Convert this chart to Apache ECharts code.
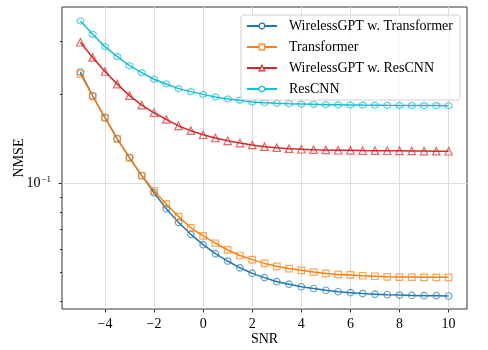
<!DOCTYPE html>
<html>
<head>
<meta charset="utf-8">
<script src="https://cdn.jsdelivr.net/npm/echarts@6/dist/echarts.min.js"></script>
<style>
  html, body { margin: 0; padding: 0; background: #fff; }
  #chart { width: 488px; height: 350px; }
</style>
</head>
<body>
<div id="chart"></div>
<script>
// SNR points (dB)
const snr = [-5, -4.5, -4, -3.5, -3, -2.5, -2, -1.5, -1, -0.5, 0, 0.5, 1, 1.5, 2, 2.5, 3, 3.5, 4, 4.5, 5, 5.5, 6, 6.5, 7, 7.5, 8, 8.5, 9, 9.5, 10]

const gptTransformer = [0.2371, 0.1972, 0.1663, 0.1413, 0.1220, 0.1061, 0.0929, 0.0820, 0.0738, 0.0673, 0.0621,
  0.0579, 0.0547, 0.0519, 0.0497, 0.0481, 0.0466, 0.0457, 0.0448, 0.0442, 0.0436,
  0.0431, 0.0428, 0.0425, 0.0423, 0.0421, 0.0420, 0.0419, 0.0418, 0.0418, 0.0417]
const transformer = [0.2335, 0.1962, 0.1666, 0.1410, 0.1217, 0.1060, 0.0943, 0.0850, 0.0772, 0.0708, 0.0665,
  0.0628, 0.0596, 0.0571, 0.0553, 0.0537, 0.0525, 0.0516, 0.0509, 0.0502, 0.0497,
  0.0493, 0.0491, 0.0488, 0.0486, 0.0484, 0.0483, 0.0483, 0.0482, 0.0482, 0.0482]
const gptResCNN = [0.2986, 0.2655, 0.2380, 0.2158, 0.1974, 0.1833, 0.1728, 0.1641, 0.1560, 0.1504, 0.1457,
  0.1421, 0.1390, 0.1366, 0.1346, 0.1328, 0.1318, 0.1308, 0.1302, 0.1298, 0.1295,
  0.1292, 0.1291, 0.1289, 0.1288, 0.1287, 0.1286, 0.1285, 0.1284, 0.1283, 0.1282]
const resCNN = [0.3524, 0.3177, 0.2886, 0.2671, 0.2490, 0.2359, 0.2241, 0.2161, 0.2084, 0.2036, 0.1993,
  0.1954, 0.1924, 0.1904, 0.1879, 0.1869, 0.1860, 0.1854, 0.1850, 0.1846, 0.1840,
  0.1839, 0.1836, 0.1834, 0.1833, 0.1831, 0.1830, 0.1828, 0.1827, 0.1827, 0.1826]

const names = ['WirelessGPT w. Transformer', 'Transformer', 'WirelessGPT w. ResCNN', 'ResCNN']
const xTicks = [-4, -2, 0, 2, 4, 6, 8, 10]
const yMajor = [0.1]
const yMinor = [0.04, 0.05, 0.06, 0.07, 0.08, 0.09, 0.2, 0.3]

const font = 'Liberation Serif'
const hexagon = 'path://M0,-1L0.866,-0.5L0.866,0.5L0,1L-0.866,0.5L-0.866,-0.5Z'
const colors = ['#1f77b4', '#ff7f0e', '#d62728', '#17becf']
const edges = ['rgba(31,119,180,0.7)', 'rgba(255,127,14,0.7)', 'rgba(214,39,40,0.7)', 'rgba(23,190,207,0.7)']

function line(i, data, symbol, size) {
  return {
    name: names[i],
    type: 'line',
    data: snr.map((x, k) => [x, data[k]]),
    symbol: symbol,
    symbolSize: size,
    showSymbol: true,
    lineStyle: { color: colors[i], width: 1.5 },
    itemStyle: { color: 'rgba(255,255,255,0)', borderColor: edges[i], borderWidth: 1.2 },
    emphasis: { disabled: true },
  }
}

const chart = echarts.init(document.getElementById('chart'), null, { renderer: 'canvas' })
chart.setOption({
  animation: false,
  grid: {
    left: 62, top: 7, right: 21, bottom: 41,
    containLabel: false,
    outerBoundsMode: 'none',
    show: true, borderColor: '#333', borderWidth: 1,
  },
  legend: {
    orient: 'vertical',
    right: 28,
    top: 15,
    padding: [4, 7, 4, 5],
    itemWidth: 30,
    itemHeight: 7,
    itemGap: 7,
    backgroundColor: 'rgba(255,255,255,0.8)',
    borderColor: '#d0d0d0',
    borderWidth: 1,
    borderRadius: 3,
    textStyle: { fontFamily: font, fontSize: 14, color: '#000', padding: [0, 0, 0, 7] },
    data: names.map((n, i) => ({
      name: n,
      itemStyle: { color: '#fff', borderColor: colors[i], borderWidth: 1.2 },
    })),
  },
  xAxis: {
    type: 'value',
    min: -5.75,
    max: 10.75,
    name: 'SNR',
    nameLocation: 'middle',
    nameGap: 23,
    nameMoveOverlap: false,
    nameTextStyle: { fontFamily: font, fontSize: 14, color: '#000' },
    axisLine: { show: false, onZero: false },
    axisTick: { show: true, length: 3.5, lineStyle: { color: '#333' }, customValues: xTicks },
    axisLabel: {
      fontFamily: font, fontSize: 14, color: '#000', margin: 8,
      customValues: xTicks,
      formatter: (v) => String(v).replace('-', '\u2212'),
    },
    splitLine: { show: true, lineStyle: { color: '#dedede', width: 1 } },
  },
  yAxis: [
    {
      type: 'log',
      min: 0.0377,
      max: 0.3926,
      name: 'NMSE',
      nameLocation: 'middle',
      nameGap: 36,
      nameMoveOverlap: false,
      nameTextStyle: { fontFamily: font, fontSize: 14, color: '#000' },
      axisLine: { show: false, onZero: false },
      axisTick: { show: true, length: 3.5, lineStyle: { color: '#333' }, customValues: yMajor },
      axisLabel: {
        customValues: yMajor,
        margin: 11,
        formatter: () => '{b|10}{s|\u22121}',
        rich: {
          b: { fontFamily: font, fontSize: 14, color: '#000' },
          s: { fontFamily: font, fontSize: 9, color: '#000', verticalAlign: 'top', padding: [0, 0, 8, 1] },
        },
      },
      splitLine: { show: true, lineStyle: { color: '#dedede', width: 1 } },
    },
    {
      type: 'log',
      min: 0.0377,
      max: 0.3926,
      position: 'left',
      offset: 0,
      axisLine: { show: false, onZero: false },
      axisTick: { show: true, length: 2, lineStyle: { color: '#333' }, customValues: yMinor },
      axisLabel: { show: false },
      splitLine: { show: false },
    },
  ],
  series: [
    line(0, gptTransformer, 'circle', 6.5),
    line(1, transformer, 'rect', 6.5),
    line(2, gptResCNN, 'triangle', 7.5),
    line(3, resCNN, hexagon, 6.5),
  ],
})
</script>
</body>
</html>
